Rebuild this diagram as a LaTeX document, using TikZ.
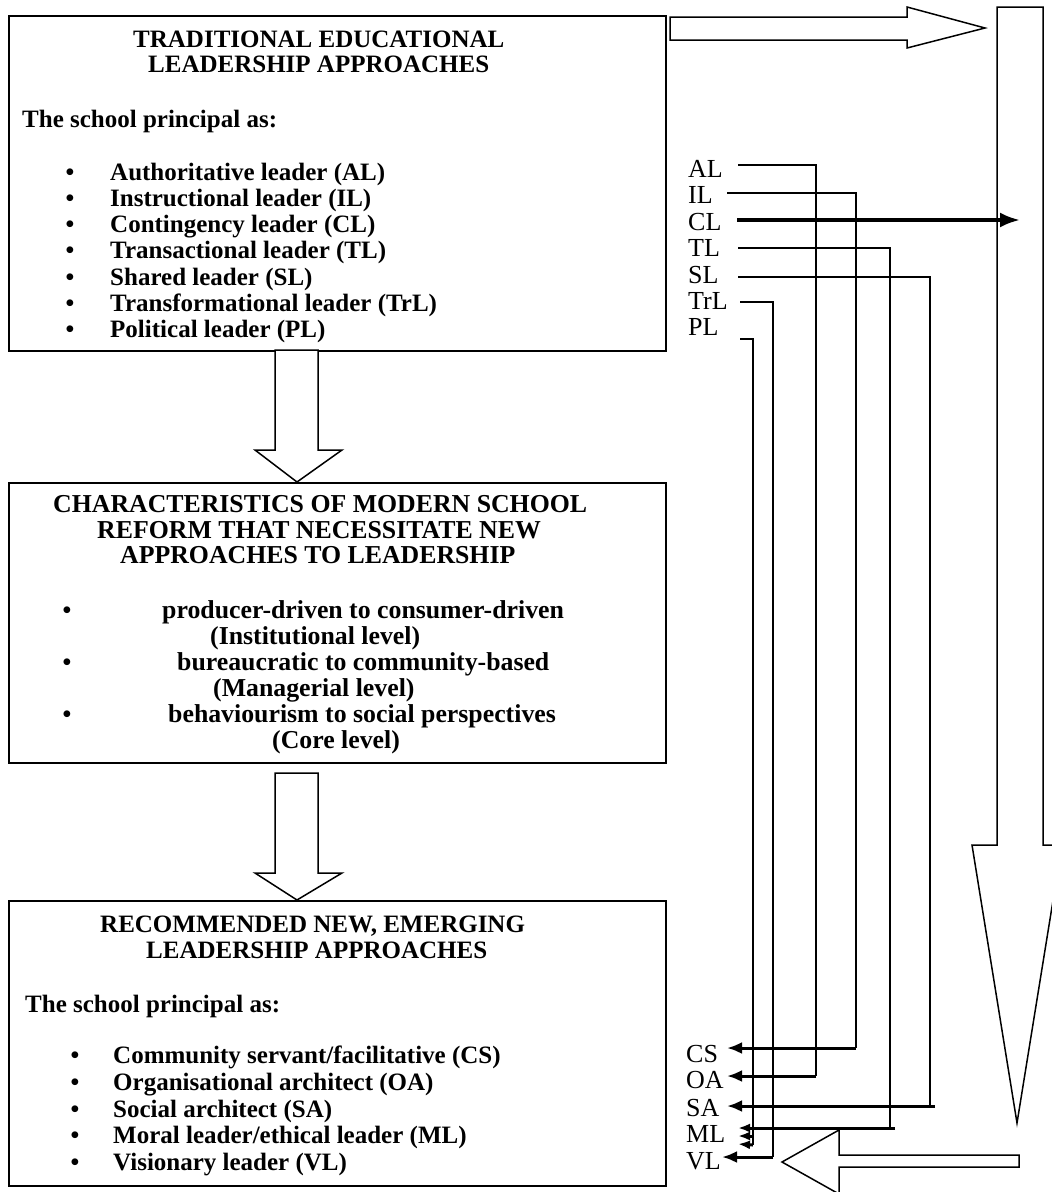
\documentclass[tikz,border=0pt]{standalone}
\usepackage{fontspec}
\setmainfont{Liberation Serif}
\usetikzlibrary{arrows.meta}
\tikzset{
  box/.style={draw, line width=2pt, inner sep=0pt, anchor=north west, minimum width=657pt},
  btxt/.style={font=\fontsize{25}{26}\selectfont\bfseries, inner sep=0pt, anchor=base west},
  btxtb/.style={font=\fontsize{25.8}{26}\selectfont\bfseries, inner sep=0pt, anchor=base west},
  bul/.style={font=\fontsize{25}{26}\selectfont\bfseries, inner sep=0pt, anchor=base},
  lbl/.style={font=\fontsize{26}{26}\selectfont, inner sep=0pt, anchor=base west},
  blk/.style={draw, line width=1.5pt, fill=white, line join=miter},
  conn/.style={line width=1.4pt},
  conb/.style={line width=3pt, -{Latex[length=15pt,width=12pt]}},
  conc/.style={line width=3.5pt, -{Latex[length=20pt,width=15pt]}},
  conm/.style={line width=3pt, -{Latex[length=12pt,width=9pt]}}
}
\begin{document}
\begin{tikzpicture}[x=1pt,y=-1pt]
\useasboundingbox (0,0) rectangle (1052,1192);
\clip (0,0) rectangle (1052,1192);

% boxes
\node[box, minimum height=335pt] (b1) at (8,15) {};
\node[box, minimum height=280pt] (b2) at (8,482) {};
\node[box, minimum height=285pt] (b3) at (8,900) {};

% block arrows
\draw[blk] (275,350) -- (275,450) -- (255,450) -- (297,482) -- (342,450) -- (318,450) -- (318,350) -- cycle;
\draw[blk] (275,773) -- (275,873) -- (255,873) -- (297,900) -- (342,873) -- (318,873) -- (318,773) -- cycle;
\draw[blk] (670,17) -- (907,17) -- (907,7) -- (985,28) -- (907,48) -- (907,40) -- (670,40) -- cycle;
\draw[blk] (997,7) -- (997,845) -- (972,845) -- (1017,1123) -- (1062,845) -- (1043,845) -- (1043,7) -- cycle;
\draw[blk] (1019,1155) -- (839,1155) -- (839,1130) -- (782,1162) -- (839,1194) -- (839,1167) -- (1019,1167) -- cycle;

% box 1 text
\node[btxt] (t1a) at (133,47) {TRADITIONAL EDUCATIONAL};
\node[btxt] (t1b) at (148,72) {LEADERSHIP APPROACHES};
\node[btxt] (t1c) at (22,127) {The school principal as:};
\foreach \t [count=\i] in {Authoritative leader (AL),Instructional leader (IL),Contingency leader (CL),Transactional leader (TL),Shared leader (SL),Transformational leader (TrL),Political leader (PL)} {
  \node[bul] (b1u\i) at (70,{180+26.3*(\i-1)}) {\textbullet};
  \node[btxt] (b1i\i) at (110,{180+26.3*(\i-1)}) {\t};
}

% box 2 text
\node[btxtb] (t2a) at (53,512) {CHARACTERISTICS OF MODERN SCHOOL};
\node[btxtb] (t2b) at (97,538) {REFORM THAT NECESSITATE NEW};
\node[btxtb] (t2c) at (120,563) {APPROACHES TO LEADERSHIP};
\node[bul] (b2u1) at (67,618) {\textbullet};
\node[btxtb] (b2i1) at (162,618) {producer-driven to consumer-driven};
\node[btxtb] (b2j1) at (210,644) {(Institutional level)};
\node[bul] (b2u2) at (67,670) {\textbullet};
\node[btxtb] (b2i2) at (177,670) {bureaucratic to community-based};
\node[btxtb] (b2j2) at (213,696) {(Managerial level)};
\node[bul] (b2u3) at (67,722) {\textbullet};
\node[btxtb] (b2i3) at (168,722) {behaviourism to social perspectives};
\node[btxtb] (b2j3) at (272,748) {(Core level)};

% box 3 text
\node[btxt] (t3a) at (100,932) {RECOMMENDED NEW, EMERGING};
\node[btxt] (t3b) at (146,958) {LEADERSHIP APPROACHES};
\node[btxt] (t3c) at (25,1012) {The school principal as:};
\foreach \t/\yy [count=\i] in {{Community servant/facilitative (CS)}/1063,{Organisational architect (OA)}/1090,{Social architect (SA)}/1117,{Moral leader/ethical leader (ML)}/1143,{Visionary leader (VL)}/1170} {
  \node[bul] (b3u\i) at (75,\yy) {\textbullet};
  \node[btxt] (b3i\i) at (113,\yy) {\t};
}

% labels
\node[lbl] (AL) at (688,177) {AL};
\node[lbl] (IL) at (688,203) {IL};
\node[lbl] (CL) at (688,230) {CL};
\node[lbl] (TL) at (688,256) {TL};
\node[lbl] (SL) at (688,283) {SL};
\node[lbl] (TrL) at (688,309) {TrL};
\node[lbl] (PL) at (688,335) {PL};
\node[lbl] (CS) at (686,1062) {CS};
\node[lbl] (OA) at (686,1088) {OA};
\node[lbl] (SA) at (686,1116) {SA};
\node[lbl] (ML) at (686,1142) {ML};
\node[lbl] (VL) at (686,1169) {VL};

% connector coordinates
\coordinate (sAL) at (738,165);
\coordinate (sIL) at (727,193);
\coordinate (sCL) at (737,220);
\coordinate (sTL) at (738,248);
\coordinate (sSL) at (738,277);
\coordinate (sTrL) at (740,302);
\coordinate (sPL) at (740,339);
\coordinate (eCL) at (1020,220);
\coordinate (cAL) at (816,1076);
\coordinate (cIL) at (856,1048);
\coordinate (cTL) at (890,1128);
\coordinate (cSL) at (930,1106);
\coordinate (cTrL) at (773,1157);
\coordinate (cPL) at (753,1145);
\coordinate (mPL) at (753,1136);
\coordinate (oSA) at (935,1106);
\coordinate (oML) at (895,1128);
\coordinate (eCS) at (727,1048);
\coordinate (eOA) at (727,1076);
\coordinate (eSA) at (727,1106);
\coordinate (eML) at (738,1128);
\coordinate (eML2) at (738,1136);
\coordinate (eML3) at (738,1144);
\coordinate (eVL) at (722,1157);

% connectors
\draw[conn] (sAL) -| (cAL);
\draw[conn] (sIL) -| (cIL);
\draw[conn] (sTL) -| (cTL);
\draw[conn] (sSL) -| (cSL);
\draw[conn] (sTrL) -| (cTrL);
\draw[conn] (sPL) -| (cPL);
\draw[conc] (sCL) -- (eCL);
\draw[conb] (cIL) -- (eCS);
\draw[conb] (cAL) -- (eOA);
\draw[conb] (oSA) -- (eSA);
\draw[conm] (oML) -- (eML);
\draw[conm] (mPL) -- (eML2);
\draw[conm] (cPL) -- (eML3);
\draw[conb] (cTrL) -- (eVL);
\end{tikzpicture}
\end{document}
